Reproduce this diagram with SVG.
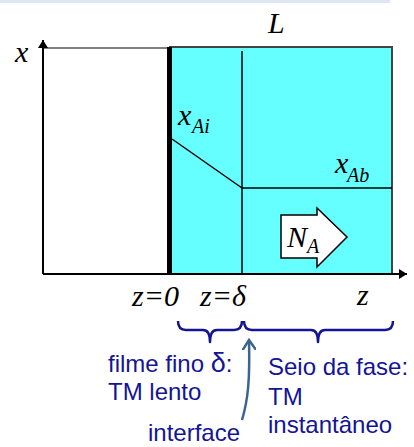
<svg xmlns="http://www.w3.org/2000/svg" width="414" height="447" viewBox="0 0 414 447">
<defs>
<style>
.ser{font-family:"Liberation Serif","Times New Roman",serif;font-style:italic;fill:#000}
.big{font-size:30px}
.sub{font-size:20px}
.lbl{font-family:"Liberation Sans",Arial,sans-serif;font-size:24px;fill:#141496}
.brace{fill:none;stroke:#141496;stroke-width:2.5;stroke-linejoin:round}
</style>
<marker id="ah" markerWidth="10" markerHeight="10" refX="8" refY="5" orient="auto" markerUnits="userSpaceOnUse">
<path d="M0,0 L8,5 L0,10 Z" fill="#000"/>
</marker>
<marker id="open" markerWidth="14" markerHeight="14" refX="10" refY="7" orient="auto" markerUnits="userSpaceOnUse">
<path d="M1,1 L10,7 L1,13" fill="none" stroke="#3c6491" stroke-width="2.5" stroke-linecap="round"/>
</marker>
</defs>
<rect width="414" height="447" fill="#fff"/>
<rect x="0" y="0" width="390" height="3" fill="#dde6f2"/>

<g id="film-region">
<rect x="170" y="47" width="222" height="227" fill="#66ffff" stroke="#444" stroke-width="2"/>
</g>
<g id="left-box">
<line x1="43" y1="48" x2="170" y2="48" stroke="#555" stroke-width="1.5"/>
</g>
<g id="connectors">
<line x1="43" y1="274" x2="43" y2="40" stroke="#000" stroke-width="2" marker-end="url(#ah)"/>
<line x1="43" y1="274" x2="407" y2="274" stroke="#000" stroke-width="2" marker-end="url(#ah)"/>
<line x1="169.5" y1="47" x2="169.5" y2="274" stroke="#000" stroke-width="5"/>
<line x1="242" y1="51" x2="242" y2="274" stroke="#000" stroke-width="1.5"/>
<line x1="172" y1="139" x2="242" y2="188" stroke="#000" stroke-width="1.5"/>
<line x1="242" y1="188" x2="392" y2="188" stroke="#000" stroke-width="1.5"/>
<path class="brace" d="M178,321 Q178,330 186,330 L203,330 Q210,330 210,342 Q210,330 217,330 L234,330 Q242,330 242,321"/>
<path class="brace" d="M244,321 Q244,330 252,330 L311,330 Q318,330 318,342 Q318,330 325,330 L385,330 Q393,330 393,321"/>
<path d="M242,420 C248,400 250,380 249,340" fill="none" stroke="#3c6491" stroke-width="2.5" marker-end="url(#open)"/>
</g>
<g id="flux-arrow">
<path d="M281,215 L317,215 L317,208 L347,237 L317,267 L317,258 L281,258 Z" fill="#fff" stroke="#000" stroke-width="1.5"/>
<text class="ser big" x="287" y="247">N</text>
<text class="ser sub" x="307" y="253">A</text>
</g>
<g id="labels">
<text class="ser big" x="15" y="62">x</text>
<text class="ser big" x="268" y="33">L</text>
<text class="ser big" x="178" y="125">x</text>
<text class="ser sub" x="192" y="133">Ai</text>
<text class="ser big" x="335" y="173">x</text>
<text class="ser sub" x="347" y="182">Ab</text>
<text class="ser big" x="132" y="306">z=0</text>
<text class="ser big" x="200" y="306">z=δ</text>
<text class="ser big" x="357" y="305">z</text>
</g>
<g id="text-film">
<text class="lbl" x="108" y="372">filme fino <tspan font-size="27">δ</tspan>:</text>
<text class="lbl" x="108" y="400">TM lento</text>
</g>
<g id="text-bulk">
<text class="lbl" x="268" y="375">Seio da fase:</text>
<text class="lbl" x="268" y="405">TM</text>
<text class="lbl" x="268" y="433">instantâneo</text>
</g>
<g id="text-interface">
<text class="lbl" x="148" y="441">interface</text>
</g>
</svg>
